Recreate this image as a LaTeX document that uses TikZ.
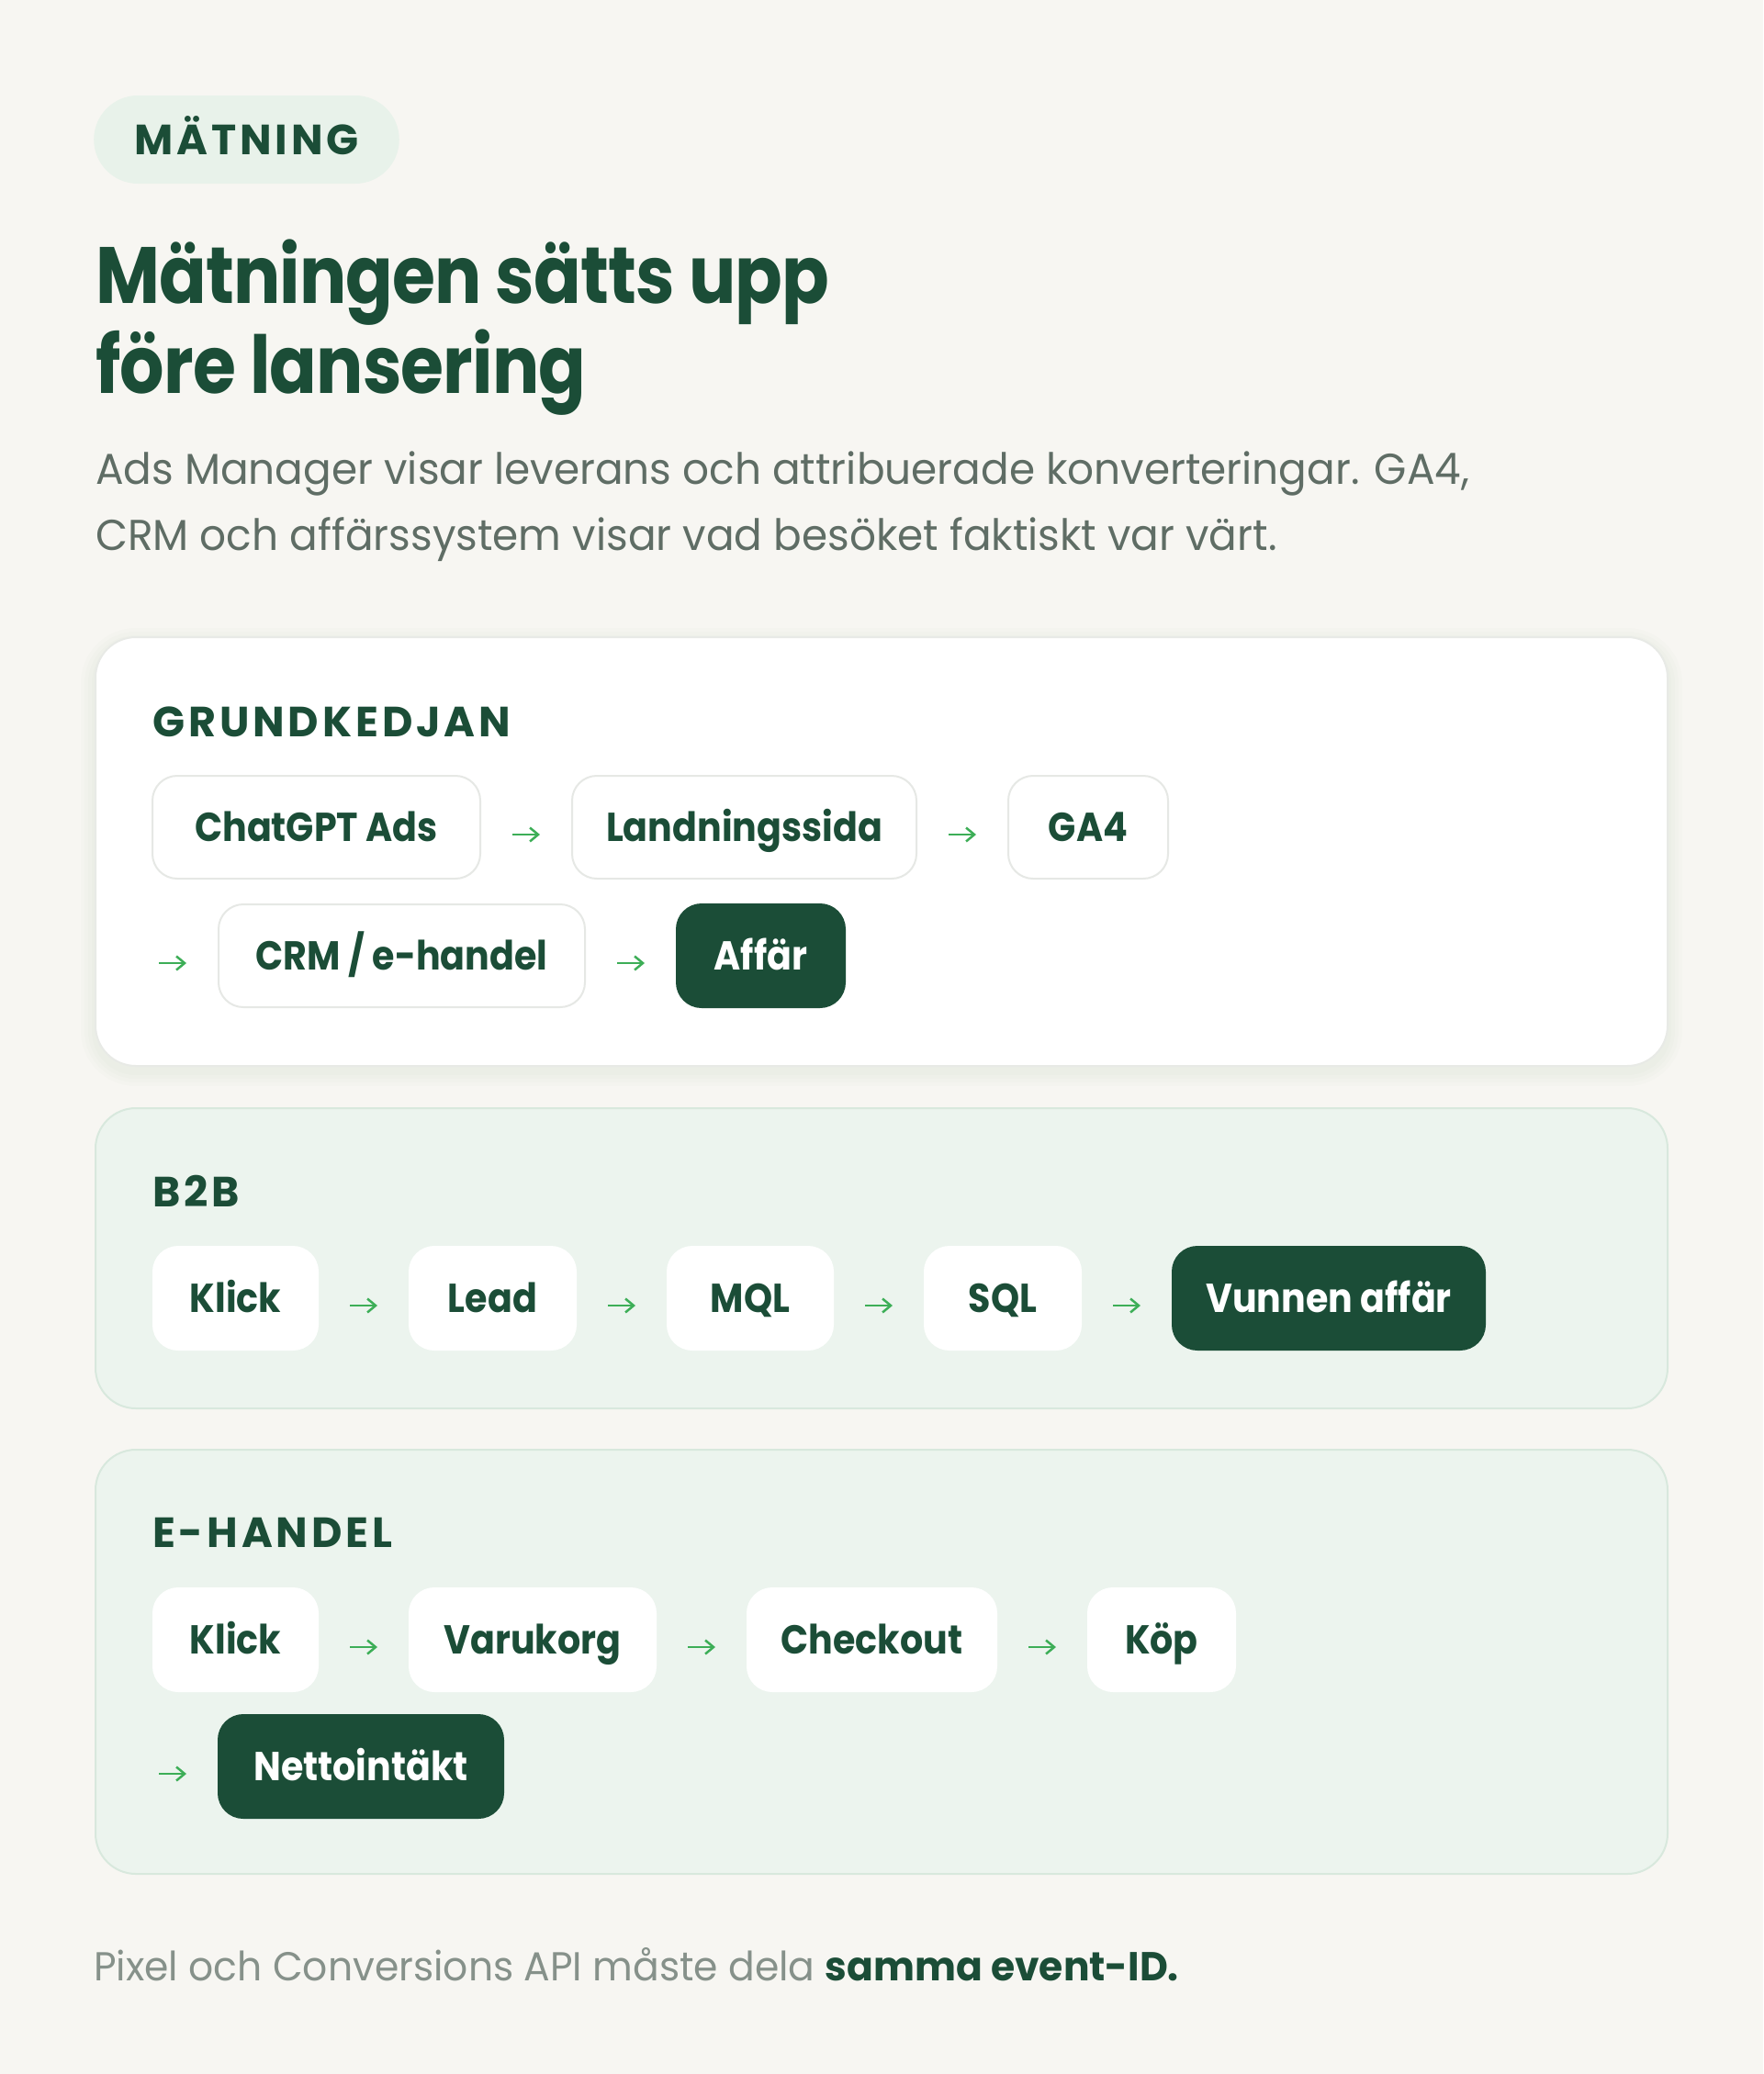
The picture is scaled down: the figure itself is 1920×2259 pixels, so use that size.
\documentclass[tikz,border=0pt]{standalone}
\usepackage{fontspec}
\usetikzlibrary{positioning}
\usetikzlibrary{arrows.meta}
\newfontfamily\bodyfont[FakeStretch=0.965]{Poppins}
\newfontfamily\chipfont[FakeStretch=0.9]{Poppins}
\newfontfamily\titlefont[FakeStretch=0.875,LetterSpace=-1]{Poppins}
\newfontfamily\capsfont[LetterSpace=8.5]{Poppins}
\definecolor{pagebg}{HTML}{F7F6F2}
\definecolor{dkgreen}{HTML}{1B4D37}
\definecolor{pillfill}{HTML}{E8F2EA}
\definecolor{cardline}{HTML}{E8EAE6}
\definecolor{softfill}{HTML}{ECF4EE}
\definecolor{softline}{HTML}{D8E8DD}
\definecolor{chipline}{HTML}{E6E8E5}
\definecolor{arrgreen}{HTML}{3DAE57}
\definecolor{leadgray}{HTML}{5F6D65}
\definecolor{notegray}{HTML}{86918A}
\tikzset{
    card/.style = {rounded corners=44pt, line width=2pt},
    chip/.style = {rectangle, rounded corners=27pt, draw=chipline, fill=white, line width=2pt, outer sep=0pt,
        minimum height=112pt, inner xsep=0pt, inner ysep=0pt, text height=31pt, text depth=0pt,
        text=dkgreen, font=\chipfont\bfseries\fontsize{44}{50}\selectfont},
    goal/.style = {chip, draw=dkgreen, fill=dkgreen, text=white},
    head/.style = {anchor=base west, inner sep=0pt, text=dkgreen, font=\capsfont\bfseries\fontsize{46}{52}\selectfont},
    flow/.style = {draw=arrgreen, line width=2.5pt, shorten <=35pt, shorten >=35pt,
        -{Straight Barb[length=9pt,width=15pt]}}
}

\begin{document}
\begin{tikzpicture}[x=1pt, y=-1pt]
    \useasboundingbox[fill=pagebg] (0,0) rectangle (1920,2259);

    % tag and heading
    \node [anchor=west, fill=pillfill, rounded corners=48pt, minimum height=96pt, inner xsep=44pt,
        text height=32pt, text depth=0pt, text=dkgreen, font=\capsfont\bfseries\fontsize{46}{52}\selectfont]
        (tag) at (102,152) {MÄTNING};
    \node [anchor=base west, inner sep=0pt, text=dkgreen, font=\titlefont\bfseries\fontsize{87}{94}\selectfont]
        (title1) at (104,330) {Mätningen sätts upp};
    \node [anchor=base west, inner sep=0pt, text=dkgreen, font=\titlefont\bfseries\fontsize{87}{94}\selectfont]
        (title2) at (104,428) {före lansering};
    \node [anchor=base west, inner sep=0pt, text=leadgray, font=\bodyfont\fontsize{47}{72}\selectfont]
        (lead1) at (104,527) {Ads Manager visar leverans och attribuerade konverteringar. GA4,};
    \node [anchor=base west, inner sep=0pt, text=leadgray, font=\bodyfont\fontsize{47}{72}\selectfont]
        (lead2) at (104,599) {CRM och affärssystem visar vad besöket faktiskt var värt.};

    % cards
    \foreach \s in {4,8,12,16}
        \fill [dkgreen, opacity=0.012, rounded corners={44+\s}] ({104-\s},{700-\s}) rectangle ({1816+\s},{1167+\s});
    \draw [card, draw=cardline, fill=white] (104,694) rectangle (1816,1161);
    \draw [card, draw=softline, fill=softfill] (104,1207) rectangle (1816,1534);
    \draw [card, draw=softline, fill=softfill] (104,1579) rectangle (1816,2041);

    % grundkedjan
    \node [head] (h1) at (166,802) {GRUNDKEDJAN};
    \node [chip, anchor=west, minimum width=357pt] (g1) at (166,901) {ChatGPT Ads};
    \node [chip, minimum width=375pt, right=100pt of g1] (g2) {Landningssida};
    \node [chip, minimum width=174pt, right=100pt of g2] (g3) {GA4};
    \node [chip, anchor=west, minimum width=399pt] (g4) at (238,1041) {CRM / e-handel};
    \node [goal, minimum width=183pt, right=100pt of g4] (g5) {Affär};
    \coordinate (g3x) at ([xshift=-100pt]g4.west);

    % b2b
    \node [head] (h2) at (166,1314) {B2B};
    \node [chip, anchor=west, draw=white, minimum width=179pt] (b1) at (167,1414) {Klick};
    \node [chip, draw=white, minimum width=181pt, right=100pt of b1] (b2) {Lead};
    \node [chip, draw=white, minimum width=180pt, right=100pt of b2] (b3) {MQL};
    \node [chip, draw=white, minimum width=170pt, right=100pt of b3] (b4) {SQL};
    \node [goal, minimum width=340pt, right=100pt of b4] (b5) {Vunnen affär};

    % e-handel
    \node [head] (h3) at (166,1685) {E-HANDEL};
    \node [chip, anchor=west, draw=white, minimum width=179pt] (e1) at (167,1786) {Klick};
    \node [chip, draw=white, minimum width=268pt, right=100pt of e1] (e2) {Varukorg};
    \node [chip, draw=white, minimum width=271pt, right=100pt of e2] (e3) {Checkout};
    \node [chip, draw=white, minimum width=160pt, right=100pt of e3] (e4) {Köp};
    \node [goal, anchor=west, minimum width=310pt] (e5) at (238,1924) {Nettointäkt};
    \coordinate (e4x) at ([xshift=-100pt]e5.west);

    \foreach \a/\b in {g1.east/g2.west, g2.east/g3.west, g3x/g4.west, g4.east/g5.west,
        b1.east/b2.west, b2.east/b3.west, b3.east/b4.west, b4.east/b5.west,
        e1.east/e2.west, e2.east/e3.west, e3.east/e4.west, e4x/e5.west}
        \draw [flow] ([yshift=-8pt]\a) -- ([yshift=-8pt]\b);

    \node [anchor=base west, inner sep=0pt, text=notegray, font=\bodyfont\fontsize{44}{50}\selectfont]
        (note) at (102,2157) {Pixel och Conversions API måste dela {\color{dkgreen}\bfseries samma event-ID.}};
\end{tikzpicture}
\end{document}
